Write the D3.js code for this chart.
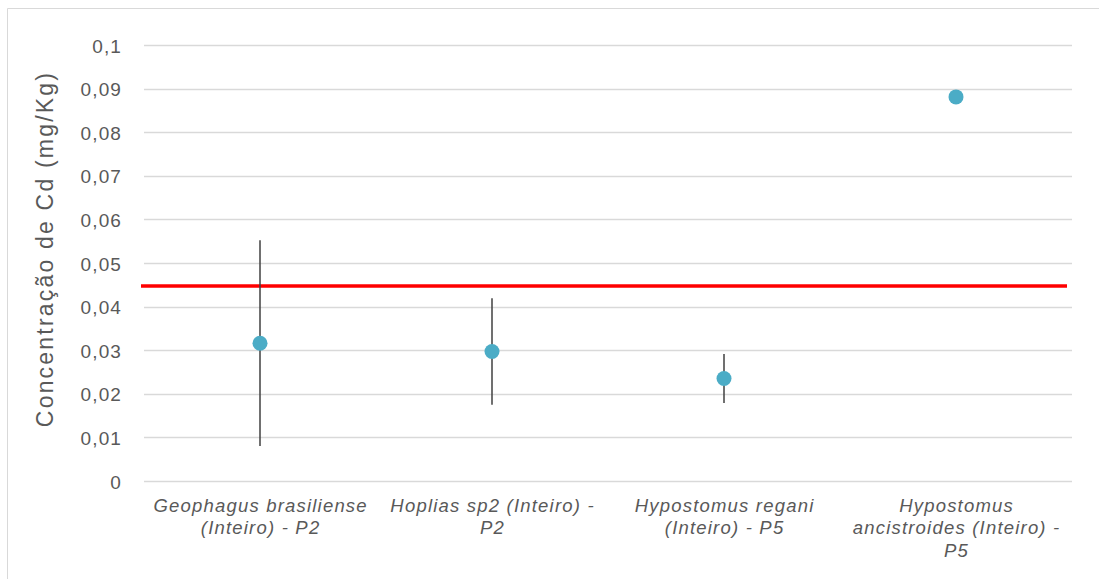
<!DOCTYPE html>
<html><head><meta charset="utf-8">
<script src="https://cdn.jsdelivr.net/npm/d3@7"></script>
<style>html,body{margin:0;padding:0;background:#fff;}svg{display:block;font-family:"Liberation Sans",Arial,sans-serif;}</style>
</head><body><svg id="c" width="1099" height="579"></svg>
<script>
const categories = [
  ["Geophagus brasiliense", "(Inteiro) - P2"],
  ["Hoplias sp2 (Inteiro) -", "P2"],
  ["Hypostomus regani", "(Inteiro) - P5"],
  ["Hypostomus", "ancistroides (Inteiro) -", "P5"]
];
const means = [0.0316, 0.0297, 0.0235, 0.0881];
const errors = [0.0236, 0.0122, 0.0056, 0];
const limitValue = 0.0447;
const yTicks = [0, 0.01, 0.02, 0.03, 0.04, 0.05, 0.06, 0.07, 0.08, 0.09, 0.1];
const yTitle = "Concentração de Cd (mg/Kg)";

const svg = d3.select("#c");
const L = 144, R = 1072, T = 45, B = 481;

// outer border
svg.append("path").attr("d","M7.5,579 L7.5,8.5 L1099,8.5").attr("fill","none").attr("stroke","#d9d9d9").attr("stroke-width",1);

const x = d3.scaleBand().domain(d3.range(categories.length)).range([L, R]);
const y = d3.scaleLinear().domain([0, 0.1]).range([B, T]);

// gridlines
svg.append("g").selectAll("line").data(yTicks).join("line")
  .attr("x1", L).attr("x2", R)
  .attr("y1", d => Math.round(y(d)) + 0.5).attr("y2", d => Math.round(y(d)) + 0.5)
  .attr("stroke", "#d9d9d9").attr("stroke-width", 1.3);

// y axis labels
const yAxis = d3.axisLeft(y).tickValues(yTicks).tickSize(0).tickPadding(0)
  .tickFormat(d => d === 0 ? "0" : String(+d.toFixed(2)).replace(".", ","));
const ga = svg.append("g").attr("transform", `translate(122,0)`).call(yAxis);
ga.select(".domain").remove();
ga.selectAll("text").attr("fill", "#595959").attr("dy", "0.37em")
  .style("font-size", "19px").style("letter-spacing", "1.1px")
  .attr("font-family", '"Liberation Sans",Arial,sans-serif');

// y title
svg.append("text").attr("transform", `translate(53,249) rotate(-90)`)
  .attr("text-anchor", "middle").attr("fill", "#595959")
  .style("font-size", "23px").style("letter-spacing", "2.2px").text(yTitle);

// x labels
const xl = svg.append("g");
categories.forEach((lines, i) => {
  const t = xl.append("text").attr("text-anchor", "middle").attr("fill", "#595959")
    .style("font-size", "18.5px").style("font-style", "italic").style("letter-spacing", "1.2px");
  lines.forEach((ln, j) => {
    t.append("tspan").attr("x", x(i) + x.bandwidth() / 2 + 0.6).attr("y", 511.5 + j * 22.8).text(ln);
  });
});

// red limit line
svg.append("line").attr("x1", 141).attr("x2", 1067).attr("y1", y(limitValue)).attr("y2", y(limitValue))
  .attr("stroke", "#ff0000").attr("stroke-width", 3.5);

// error bars
svg.append("g").selectAll("line").data(means.map((m, i) => ({m, e: errors[i], i})).filter(d => d.e > 0)).join("line")
  .attr("x1", d => x(d.i) + x.bandwidth() / 2).attr("x2", d => x(d.i) + x.bandwidth() / 2)
  .attr("y1", d => y(d.m + d.e)).attr("y2", d => y(d.m - d.e))
  .attr("stroke", "#404040").attr("stroke-width", 1.5);

// points
svg.append("g").selectAll("circle").data(means).join("circle")
  .attr("cx", (d, i) => x(i) + x.bandwidth() / 2).attr("cy", d => y(d)).attr("r", 7.5)
  .attr("fill", "#4bacc6");
</script></body></html>
